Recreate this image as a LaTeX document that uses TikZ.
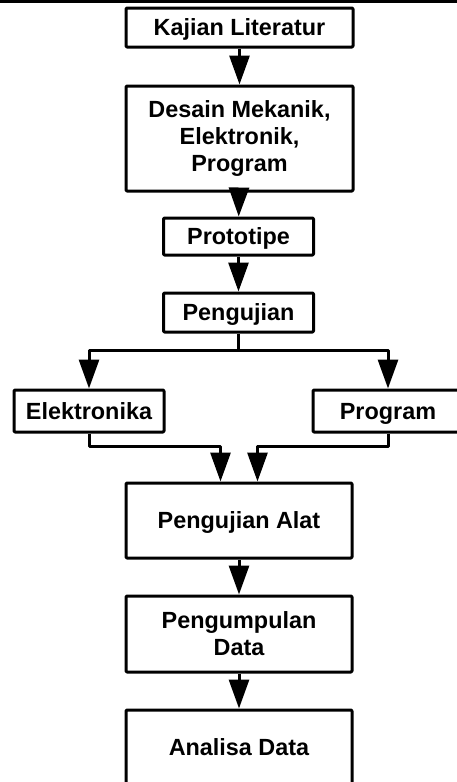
\documentclass[tikz,border=0pt]{standalone}
\usepackage{fontspec}
\setmainfont{Liberation Sans}
\usetikzlibrary{arrows.meta}
\begin{document}
\begin{tikzpicture}[x=1pt,y=-1pt,line width=3pt,line join=round,
  box/.style={draw,line width=3pt,inner sep=0pt,align=center,rounded corners=1pt,
    font=\fontsize{23.4}{27}\selectfont\bfseries},
  oneline/.style={box,text height=21.8pt,text depth=5pt},
  arr/.style={-{Triangle[width=20pt,length=29pt]}}]
\useasboundingbox (0,0) rectangle (457,782);
\clip (0,0) rectangle (457,782);
\coordinate (tl) at (0,1.5);
\coordinate (tr) at (457,1.5);
\draw (tl) -- (tr);
\node[oneline,minimum width=227pt,minimum height=39pt] (kaj) at (239.5,27.5) {Kajian Literatur};
\node[box,minimum width=227pt,minimum height=105pt] (des) at (239.5,138.5) {Desain Mekanik,\\Elektronik,\\Program};
\node[oneline,minimum width=150pt,minimum height=37pt] (proto) at (238.5,236.5) {Prototipe};
\node[oneline,minimum width=150pt,minimum height=39pt] (peng) at (238.5,312.5) {Pengujian};
\node[oneline,minimum width=150pt,minimum height=42pt] (elek) at (89,411) {Elektronika};
\node[oneline,minimum width=150pt,minimum height=42pt] (prog) at (388,411) {Program};
\node[oneline,minimum width=226pt,minimum height=75pt] (alat) at (239,520.5) {Pengujian Alat};
\node[box,minimum width=226pt,minimum height=76pt] (kumpul) at (239,634) {Pengumpulan\\Data};
\node[oneline,minimum width=226pt,minimum height=75pt] (anal) at (239,747.5) {Analisa Data};
\draw[arr] (kaj) -- (des);
\draw[arr] (des) -- (proto);
\draw[arr] (proto) -- (peng);
\coordinate (split) at (238.5,350);
\draw (peng) -- (split);
\draw[arr] (split) -| (elek);
\draw[arr] (split) -| (prog);
\draw[arr] (elek.south) -- ++(0,13) -| ([xshift=-18.5pt]alat.north);
\draw[arr] (prog.south) -- ++(0,13) -| ([xshift=18.5pt]alat.north);
\draw[arr] (alat) -- (kumpul);
\draw[arr] (kumpul) -- (anal);
\end{tikzpicture}
\end{document}
